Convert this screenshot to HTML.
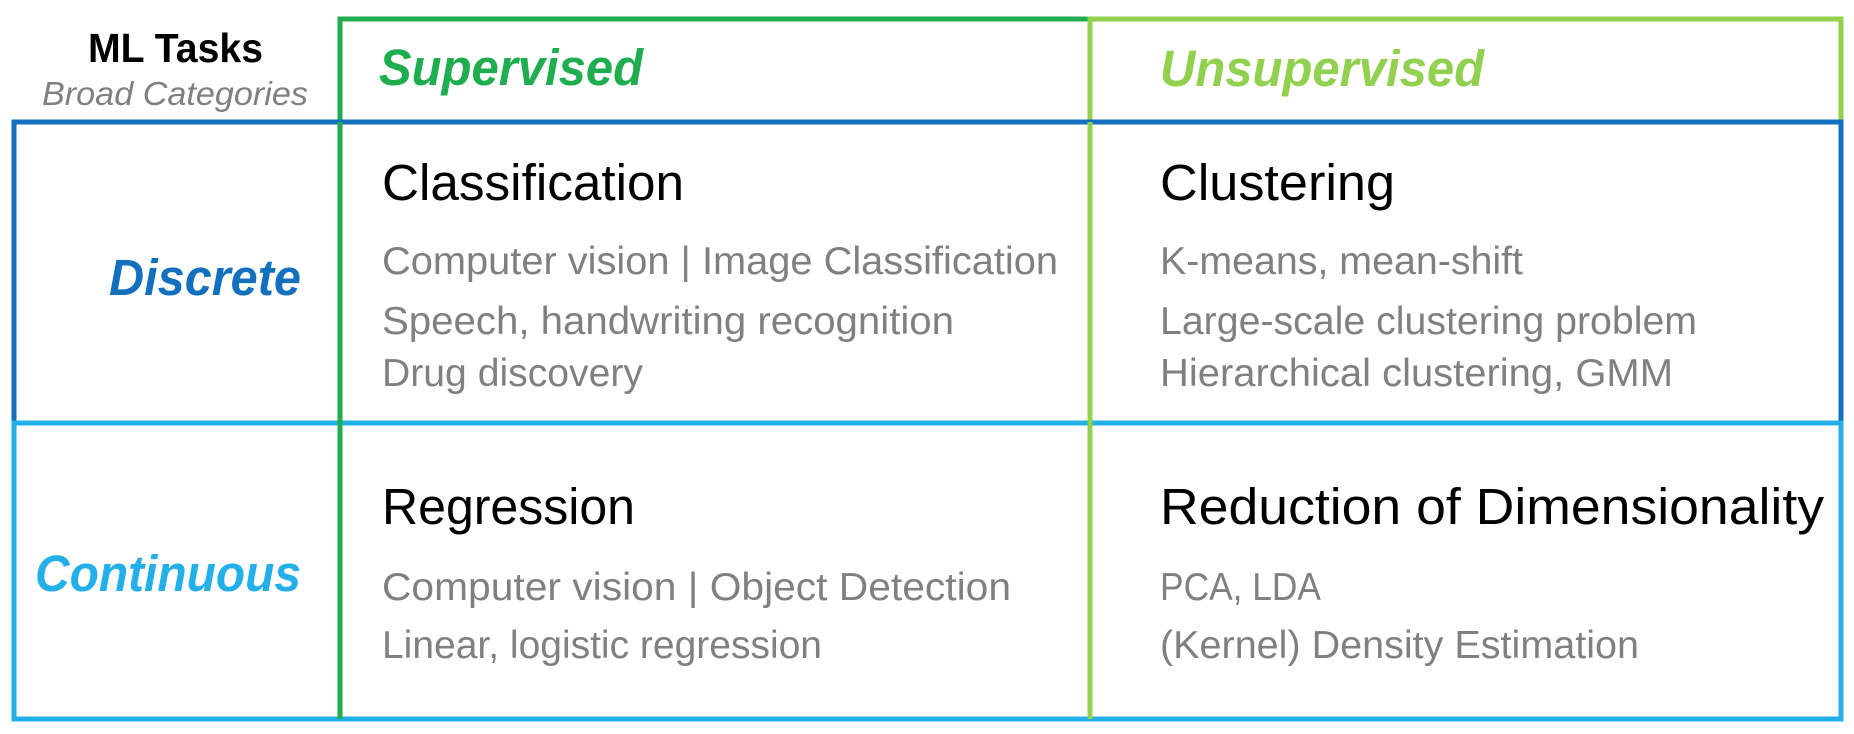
<!DOCTYPE html>
<html><head><meta charset="utf-8"><style>
html,body{margin:0;padding:0;background:#fff;}
svg{display:block;}
text{font-family:"Liberation Sans",sans-serif;}
.h{font-size:51px;fill:#000;}
.g{font-size:39px;fill:#808080;}
</style></head><body>
<svg width="1854" height="734" viewBox="0 0 1854 734" xmlns="http://www.w3.org/2000/svg">
<g fill="none" stroke-width="5">
<rect x="340" y="19" width="750" height="700" stroke="#1fad4f"/>
<rect x="1090" y="19" width="751" height="700" stroke="#92d050"/>
<rect x="14" y="122" width="1827" height="301" stroke="#1270bf"/>
<rect x="14" y="423" width="1827" height="296" stroke="#23b0e8"/>
<line x1="340" y1="122" x2="340" y2="719" stroke="#1fad4f"/>
<line x1="1090" y1="122" x2="1090" y2="719" stroke="#92d050"/>
</g>
<text x="88" y="62" font-size="41" font-weight="bold" textLength="175" lengthAdjust="spacingAndGlyphs">ML Tasks</text>
<text x="42" y="105" font-size="33" font-style="italic" fill="#808080" textLength="266" lengthAdjust="spacingAndGlyphs">Broad Categories</text>
<text x="379" y="85" font-size="51" font-weight="bold" font-style="italic" fill="#1fad4f" textLength="264" lengthAdjust="spacingAndGlyphs">Supervised</text>
<text x="1160" y="86" font-size="51" font-weight="bold" font-style="italic" fill="#92d050" textLength="324" lengthAdjust="spacingAndGlyphs">Unsupervised</text>
<text x="109" y="295" font-size="51" font-weight="bold" font-style="italic" fill="#1270bf" textLength="192" lengthAdjust="spacingAndGlyphs">Discrete</text>
<text x="35" y="591" font-size="51" font-weight="bold" font-style="italic" fill="#23b0e8" textLength="266" lengthAdjust="spacingAndGlyphs">Continuous</text>

<text class="h" x="382" y="200" textLength="302" lengthAdjust="spacingAndGlyphs">Classification</text>
<text class="g" x="382" y="274" textLength="676" lengthAdjust="spacingAndGlyphs">Computer vision | Image Classification</text>
<text class="g" x="382" y="334" textLength="572" lengthAdjust="spacingAndGlyphs">Speech, handwriting recognition</text>
<text class="g" x="382" y="386" textLength="261" lengthAdjust="spacingAndGlyphs">Drug discovery</text>

<text class="h" x="1160" y="200" textLength="235" lengthAdjust="spacingAndGlyphs">Clustering</text>
<text class="g" x="1160" y="274" textLength="363" lengthAdjust="spacingAndGlyphs">K-means, mean-shift</text>
<text class="g" x="1160" y="334" textLength="537" lengthAdjust="spacingAndGlyphs">Large-scale clustering problem</text>
<text class="g" x="1160" y="386" textLength="513" lengthAdjust="spacingAndGlyphs">Hierarchical clustering, GMM</text>

<text class="h" x="382" y="524" textLength="253" lengthAdjust="spacingAndGlyphs">Regression</text>
<text class="g" x="382" y="600" textLength="629" lengthAdjust="spacingAndGlyphs">Computer vision | Object Detection</text>
<text class="g" x="382" y="658" textLength="440" lengthAdjust="spacingAndGlyphs">Linear, logistic regression</text>

<text class="h" x="1160" y="524" textLength="664" lengthAdjust="spacingAndGlyphs">Reduction of Dimensionality</text>
<text class="g" x="1160" y="600" textLength="161" lengthAdjust="spacingAndGlyphs">PCA, LDA</text>
<text class="g" x="1160" y="658" textLength="479" lengthAdjust="spacingAndGlyphs">(Kernel) Density Estimation</text>
</svg>
</body></html>
